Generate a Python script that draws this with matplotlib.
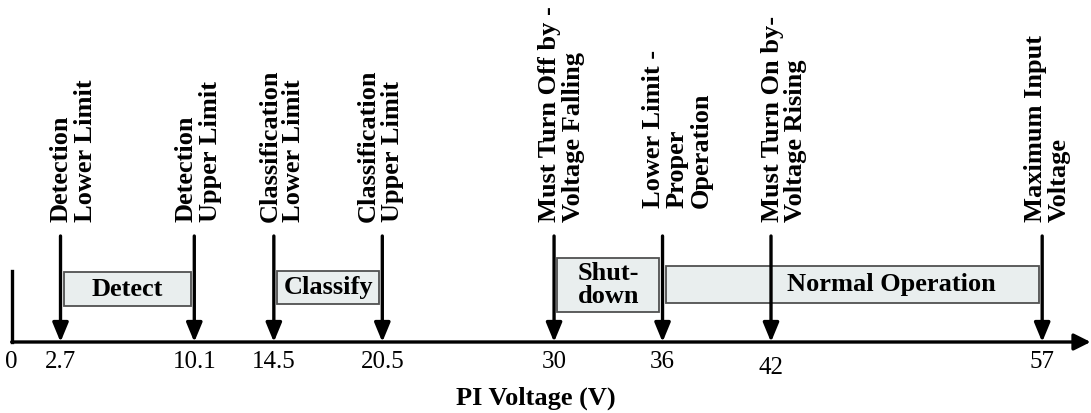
import matplotlib.pyplot as plt
import matplotlib.transforms as mtransforms

# voltage thresholds marked with down arrows
volts = [2.7, 10.1, 14.5, 20.5, 30, 36, 42, 57]
tick_text = ['2.7', '10.1', '14.5', '20.5', '30', '36', '42', '57']
limit_names = ['Detection\nLower Limit',
               'Detection\nUpper Limit',
               'Classification\nLower Limit',
               'Classification\nUpper Limit',
               'Must Turn Off by -\nVoltage Falling',
               'Lower Limit -\nProper\nOperation',
               'Must Turn On by-\nVoltage Rising',
               'Maximum Input\nVoltage']

# operating regions (start, end)
region_names = ['Detect', 'Classify', 'Shut-\ndown', 'Normal Operation']
region_start = [2.7, 14.5, 30, 36]
region_end = [10.1, 20.5, 36, 57]

# layout (y in pixels, top = 0)
y_axis = 342
y_arrow_top = 236
name_bottom = [222, 222, 222, 222, 222, 208, 222, 222]
name_dx = [13, 4, 8, -2, 7, 15, 13, 5]
tick_y = [362, 362, 362, 362, 362, 362, 368, 362]
box_top = [272, 271, 258, 266]
box_bot = [306, 304, 312, 303]
box_text_dx = [0, 0, 0, 39]
box_pad = 0.17

serif = ['Liberation Serif', 'DejaVu Serif']

fig = plt.figure(figsize=(10.91, 4.13), dpi=100)
ax = fig.add_axes([0, 0, 1, 1])
ax.set_xlim(-0.647, 59.7)
ax.set_ylim(413, 0)
ax.axis('off')

# horizontal voltage axis with arrow, and short line at 0
ax.annotate('', xy=(59.68, y_axis), xytext=(0, y_axis), annotation_clip=False,
            arrowprops=dict(arrowstyle='-|>,head_length=0.5,head_width=0.25',
                            mutation_scale=20, lw=2.4, color='k',
                            shrinkA=0, shrinkB=0))
ax.plot([0, 0], [271, y_axis], color='k', lw=2.4, solid_capstyle='projecting')
ax.text(0, 362, '0', ha='center', va='center', fontsize=18, family=serif)

# region boxes
for i, name in enumerate(region_names):
    x0 = region_start[i] + box_pad
    x1 = region_end[i] - box_pad
    ax.fill([x0, x1, x1, x0], [box_top[i], box_top[i], box_bot[i], box_bot[i]],
            facecolor='#e9eeee', edgecolor='#505050', lw=1.3, zorder=1)
    tr = mtransforms.offset_copy(ax.transData, fig=fig, x=box_text_dx[i], y=0, units='dots')
    ax.text((x0 + x1) / 2, (box_top[i] + box_bot[i]) / 2, name, transform=tr,
            ha='center', va='center', fontsize=19, fontweight='bold',
            family=serif, linespacing=1.0, zorder=3)

# threshold arrows, names and values
for i, v in enumerate(volts):
    ax.annotate('', xy=(v, y_axis), xytext=(v, y_arrow_top),
                arrowprops=dict(arrowstyle='-|>,head_length=0.58,head_width=0.24',
                                mutation_scale=20, lw=2.4, color='k',
                                shrinkA=0, shrinkB=0), zorder=4)
    tr = mtransforms.offset_copy(ax.transData, fig=fig, x=name_dx[i], y=0, units='dots')
    ax.text(v, name_bottom[i], limit_names[i], transform=tr, rotation=90,
            ha='center', va='bottom', multialignment='left',
            fontsize=19, fontweight='bold', family=serif, linespacing=1.05)
    ax.text(v, tick_y[i], tick_text[i], ha='center', va='center',
            fontsize=18, family=serif)

fig.text(0.491, 1 - 398 / 413, 'PI Voltage (V)', ha='center', va='center',
         fontsize=19, fontweight='bold', family=serif)

plt.savefig('out.png', dpi=100)
